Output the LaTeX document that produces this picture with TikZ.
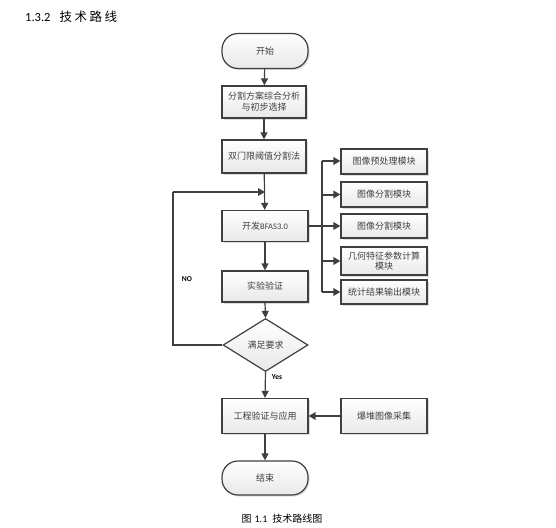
\documentclass[tikz,border=0pt]{standalone}
\usepackage{fontspec}
\setmainfont{Carlito}
\newfontfamily\cjk{Noto Sans CJK SC}
\usetikzlibrary{shapes.geometric,shadows,arrows.meta}
\definecolor{edge}{HTML}{3F3F3F}
\definecolor{txt}{HTML}{404040}
\tikzset{
  box/.style={draw=edge, line width=1.2pt, top color=white, bottom color=gray!18,
    drop shadow={shadow xshift=1.5pt, shadow yshift=-1.5pt, fill=gray!45, opacity=0.6},
    text=txt, font=\cjk\fontsize{9}{11}\selectfont, align=center, inner sep=1pt},
  term/.style={box, rounded corners=16pt},
  dec/.style={diamond, draw=edge, line width=1.2pt, top color=white, bottom color=gray!18,
    text=txt, font=\cjk\fontsize{9}{11}\selectfont, inner sep=0pt, aspect=1.6},
  conn/.style={draw=edge, line width=1.2pt, -{Triangle[length=7pt,width=7pt]}},
  thick conn/.style={draw=edge, line width=2pt, -{Triangle[length=7pt,width=7.5pt]}},
  lbl/.style={font=\bfseries\fontsize{7.5}{9}\selectfont, text=black},
}
\begin{document}
\begin{tikzpicture}[x=1pt,y=-1pt]
\useasboundingbox (0,0) rectangle (556,527);
\node[anchor=west, font=\cjk\fontsize{12.5}{14}\selectfont, inner sep=0pt] (head) at (25,17) {{\rmfamily\fontsize{12.5}{14}\selectfont 1.3.2}\hspace{9pt}技\hspace{2.5pt}术\hspace{2.5pt}路\hspace{2.5pt}线};

\node[term, minimum width=86pt, minimum height=35pt] (start) at (265,51) {开始};
\node[box, minimum width=84pt, minimum height=32pt] (b1) at (264,102) {分割方案综合分析\\与初步选择};
\node[box, minimum width=84pt, minimum height=33pt] (b2) at (264,156.5) {双门限阈值分割法};
\node[box, minimum width=86pt, minimum height=31pt] (dev) at (265,226) {开发{\fontsize{8.5}{10}\selectfont\rmfamily BFAS3.0}};
\node[box, minimum width=86pt, minimum height=31pt] (exp) at (265,286.5) {实验验证};
\node[dec, minimum width=85pt, minimum height=53pt] (ok) at (265.5,345) {满足要求};
\node[box, minimum width=86pt, minimum height=35pt] (app) at (265,416) {工程验证与应用};
\node[box, minimum width=86pt, minimum height=35pt] (img) at (384,416) {爆堆图像采集};
\node[term, minimum width=86pt, minimum height=34pt] (end) at (265,478) {结束};

\node[box, minimum width=86pt, minimum height=25pt] (m1) at (384,161.5) {图像预处理模块};
\node[box, minimum width=86pt, minimum height=25pt] (m2) at (384,194.5) {图像分割模块};
\node[box, minimum width=86pt, minimum height=24pt] (m3) at (384,226) {图像分割模块};
\node[box, minimum width=86pt, minimum height=28pt, inner sep=0pt, font=\cjk\fontsize{9}{10}\selectfont] (m4) at (384,261) {几何特征参数计算\\模块};
\node[box, minimum width=86pt, minimum height=24pt] (m5) at (384,292) {统计结果输出模块};

\node[lbl] (no) at (187,279) {NO};
\node[lbl] (yes) at (277,377) {Yes};
\node[font=\cjk\fontsize{10}{12}\selectfont] (cap) at (282,519) {图\hspace{3pt}{\rmfamily 1.1}\hspace{5pt}技术路线图};

\coordinate (br) at (322,226);
\coordinate (brtop) at (322,161);
\coordinate (brbot) at (322,292);
\coordinate (loopa) at (173,345);
\coordinate (loopb) at (173,192);
\coordinate (loopc) at (265,192);

\draw[conn] (start) -- (b1);
\draw[conn] (b1) -- (b2);
\draw[conn] (b2) -- (dev);
\draw[conn] (exp.south) -- (ok.north);
\draw[conn] (dev) -- (exp);
\draw[conn] (ok.south) -- (app.north);
\draw[conn] (app) -- (end);
\draw[thick conn] (img) -- (app);

\draw[draw=edge, line width=1.2pt] (ok.west) -- (loopa) -- (loopb);
\draw[thick conn] (loopb) -- (loopc);

\draw[draw=edge, line width=2pt] (dev.east) -- (br);
\draw[draw=edge, line width=1.2pt] (brtop) -- (brbot);
\draw[thick conn] (brtop) -- (brtop -| m1.west);
\draw[thick conn] (br |- m2.west) -- (m2.west);
\draw[thick conn] (br) -- (m3.west);
\draw[thick conn] (br |- m4.west) -- (m4.west);
\draw[thick conn] (brbot) -- (m5.west);
\end{tikzpicture}
\end{document}
